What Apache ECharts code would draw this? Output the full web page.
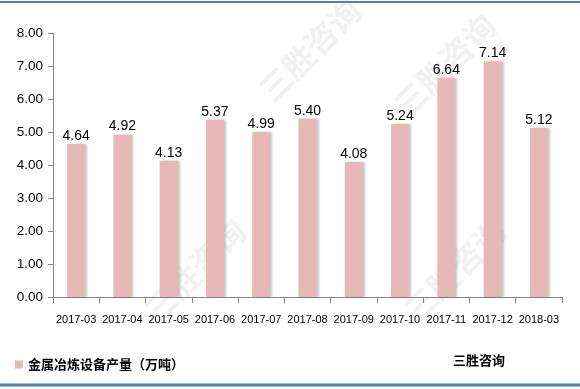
<!DOCTYPE html>
<html>
<head>
<meta charset="utf-8">
<script src="https://cdn.jsdelivr.net/npm/echarts@6/dist/echarts.min.js"></script>
<style>
html,body{margin:0;padding:0;background:#fff;}
#c{width:580px;height:389px;}
</style>
</head>
<body>
<div id="c"></div>
<script>
const categories = ['2017-03','2017-04','2017-05','2017-06','2017-07','2017-08','2017-09','2017-10','2017-11','2017-12','2018-03'];
const values = [4.64, 4.92, 4.13, 5.37, 4.99, 5.40, 4.08, 5.24, 6.64, 7.14, 5.12];
const seriesName = '金属冶炼设备产量（万吨）';
const sourceText = '三胜咨询';

const chart = echarts.init(document.getElementById('c'), null, {renderer: 'canvas'});
const wmColor = 'rgba(120,120,120,0.10)';
const wm = (x, y, size, text) => ({
  type: 'text', x: x, y: y, rotation: Math.PI / 4, silent: true, z: -1,
  style: {text: text, fill: wmColor, align: 'center', verticalAlign: 'middle',
    font: 'bold ' + size + 'px "Noto Sans CJK SC"'}
});
chart.setOption({
  animation: false,
  backgroundColor: '#fff',
  grid: {left: 53, right: 18, top: 33, bottom: 92, containLabel: false},
  legend: {
    show: true, left: 10, top: 353, itemWidth: 8, itemHeight: 8, icon: 'rect',
    textStyle: {fontFamily: '"Noto Sans CJK SC"', fontSize: 13, fontWeight: 'bold', color: '#000'},
    data: [seriesName]
  },
  graphic: [
    {type: 'line', shape: {x1: 0, y1: 2, x2: 580, y2: 2}, style: {stroke: '#4f81bd', lineWidth: 2}},
    {type: 'line', shape: {x1: 0, y1: 385, x2: 580, y2: 385}, style: {stroke: '#4f81bd', lineWidth: 3}},
    {type: 'text', left: 453, top: 354, style: {text: sourceText, fill: '#000', font: 'bold 13px "Noto Sans CJK SC"'}},
    wm(310, 50, 32, '三胜咨询'),
    wm(445, 65, 32, '三胜咨询'),
    wm(195, 270, 32, '三胜咨询'),
    wm(455, 270, 32, '三胜咨询')
  ],
  xAxis: {
    type: 'category', data: categories,
    axisLine: {lineStyle: {color: '#868686', width: 1}},
    axisTick: {show: true, alignWithLabel: false, length: 6, lineStyle: {color: '#868686'}},
    axisLabel: {color: '#000', fontFamily: '"Liberation Sans"', fontSize: 11, margin: 17, interval: 0}
  },
  yAxis: {
    type: 'value', min: 0, max: 8, interval: 1,
    axisLine: {show: true, lineStyle: {color: '#868686', width: 1}},
    axisTick: {show: true, length: 5, lineStyle: {color: '#868686'}},
    splitLine: {show: false},
    axisLabel: {color: '#000', fontFamily: '"Liberation Sans"', fontSize: 13.5, margin: 10,
      formatter: v => v.toFixed(2)}
  },
  series: [{
    name: seriesName, type: 'bar', data: values, barWidth: 18,
    itemStyle: {color: '#e6b9b8', shadowColor: 'rgba(0,0,0,0.22)', shadowBlur: 2, shadowOffsetX: 2, shadowOffsetY: 0},
    label: {show: true, position: 'top', distance: 1, color: '#000', fontFamily: '"Liberation Sans"', fontSize: 14,
      formatter: p => p.value.toFixed(2)}
  }]
});
</script>
</body>
</html>
